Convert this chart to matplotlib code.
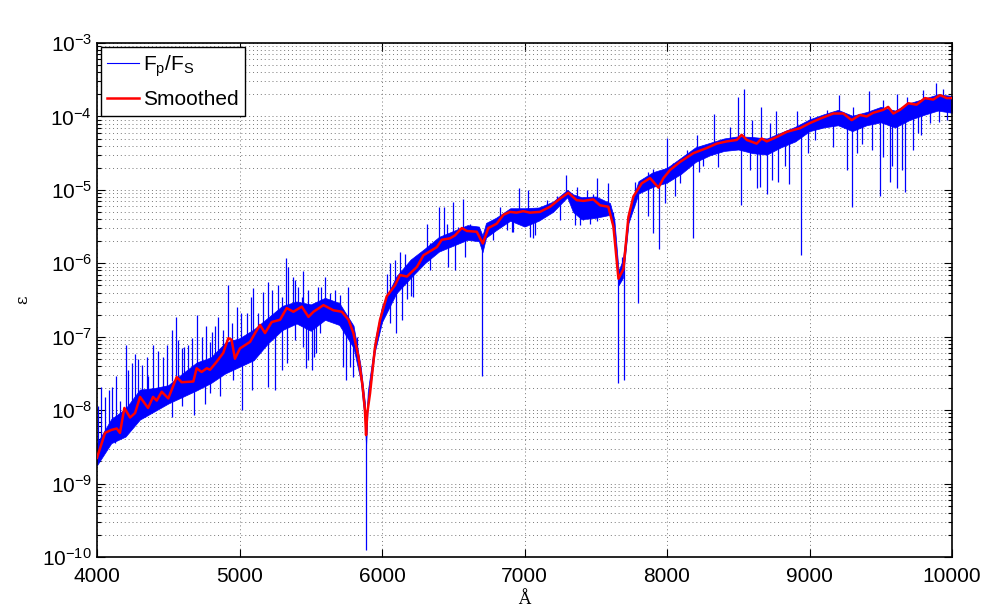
import numpy as np
import matplotlib
matplotlib.use("Agg")
import matplotlib.pyplot as plt
from matplotlib.ticker import FixedLocator, NullLocator, NullFormatter, LogFormatterSciNotation

# ---------------- data (log10 of epsilon) ----------------
smooth_wl = [4000, 4056, 4100, 4138, 4161, 4192, 4232, 4267, 4302, 4358, 4393, 4419, 4454, 4500,
             4559, 4594, 4676, 4699, 4734, 4770, 4793, 4840, 4886, 4921, 4944, 4968, 5003, 5074,
             5109, 5144, 5179, 5226, 5284, 5331, 5378, 5437, 5484, 5519, 5589, 5659, 5718, 5765,
             5799, 5834, 5864, 5880, 5888, 5896, 5916, 5951, 5986, 6033, 6091, 6126, 6175, 6245,
             6291, 6385, 6419, 6477, 6512, 6560, 6596, 6665, 6707, 6746, 6805, 6852, 6898, 6944,
             6991, 7038, 7108, 7179, 7249, 7307, 7366, 7413, 7483, 7530, 7588, 7624, 7659, 7694,
             7729, 7764, 7823, 7881, 7940, 7975, 8021, 8091, 8185, 8279, 8349, 8419, 8489, 8524,
             8560, 8629, 8664, 8700, 8770, 8840, 8933, 9003, 9074, 9167, 9237, 9296, 9354, 9401,
             9447, 9517, 9552, 9588, 9635, 9693, 9751, 9810, 9868, 9916, 9963, 10000]
smooth_log = [-8.65, -8.31, -8.27, -8.25, -8.31, -7.97, -8.10, -8.04, -7.82, -7.97, -7.82, -7.87, -7.75, -7.84,
              -7.55, -7.62, -7.61, -7.43, -7.48, -7.43, -7.45, -7.34, -7.22, -7.02, -7.04, -7.30, -7.16, -7.07,
              -6.95, -6.84, -6.95, -6.80, -6.77, -6.61, -6.66, -6.59, -6.73, -6.66, -6.57, -6.64, -6.66, -6.77,
              -6.95, -7.27, -7.68, -8.00, -8.34, -8.05, -7.77, -7.14, -6.77, -6.45, -6.30, -6.16, -6.18, -6.05,
              -5.89, -5.78, -5.68, -5.66, -5.62, -5.52, -5.56, -5.57, -5.73, -5.52, -5.46, -5.34, -5.30, -5.31,
              -5.29, -5.31, -5.30, -5.23, -5.12, -5.04, -5.14, -5.15, -5.13, -5.21, -5.23, -5.50, -6.21, -6.08,
              -5.37, -5.09, -4.91, -4.84, -4.97, -4.84, -4.73, -4.62, -4.50, -4.43, -4.37, -4.34, -4.32, -4.25,
              -4.32, -4.37, -4.30, -4.34, -4.28, -4.21, -4.16, -4.09, -4.03, -3.96, -3.96, -4.05, -3.98, -4.00,
              -3.95, -3.91, -3.87, -3.96, -3.91, -3.82, -3.84, -3.75, -3.77, -3.71, -3.75, -3.75]

# dense part of the raw Fp/Fs spectrum: lower / upper edge of the band
band_wl = [4000, 4100, 4200, 4300, 4400, 4500, 4600, 4700, 4800, 4900, 5000, 5100, 5200, 5300, 5400,
           5500, 5600, 5700, 5800, 5850, 5880, 5888, 5900, 5950, 6000, 6100, 6200, 6300, 6400, 6500,
           6600, 6680, 6705, 6730, 6800, 6900, 7000, 7100, 7200, 7300, 7340, 7400, 7500, 7600, 7630,
           7660, 7690, 7730, 7800, 7900, 8000, 8100, 8200, 8300, 8400, 8500, 8600, 8700, 8800, 8900,
           9000, 9100, 9200, 9300, 9400, 9500, 9600, 9700, 9800, 9900, 10000]
band_lo = [-8.75, -8.45, -8.36, -8.13, -8.02, -7.91, -7.82, -7.73, -7.63, -7.50, -7.41, -7.32, -7.09, -6.91, -6.82,
           -6.92, -6.77, -6.84, -7.15, -7.60, -8.15, -8.50, -7.95, -7.20, -6.80, -6.41, -6.20, -6.00, -5.84, -5.76,
           -5.68, -5.70, -5.85, -5.65, -5.55, -5.42, -5.50, -5.42, -5.30, -5.10, -5.30, -5.40, -5.38, -5.34, -5.60,
           -6.30, -6.20, -5.45, -5.05, -4.96, -4.90, -4.78, -4.62, -4.53, -4.47, -4.45, -4.50, -4.52, -4.42, -4.34,
           -4.20, -4.15, -4.12, -4.20, -4.12, -4.08, -4.15, -4.05, -3.98, -3.92, -3.95]
band_hi = [-8.45, -8.12, -7.98, -7.72, -7.70, -7.66, -7.50, -7.35, -7.28, -7.08, -7.02, -6.90, -6.74, -6.58, -6.52,
           -6.56, -6.47, -6.54, -6.85, -7.40, -7.90, -8.20, -7.75, -7.05, -6.58, -6.18, -5.95, -5.80, -5.64, -5.56,
           -5.48, -5.50, -5.62, -5.45, -5.38, -5.25, -5.25, -5.24, -5.16, -5.00, -5.06, -5.10, -5.09, -5.18, -5.40,
           -6.10, -5.95, -5.30, -4.88, -4.76, -4.70, -4.56, -4.42, -4.36, -4.30, -4.27, -4.28, -4.30, -4.22, -4.14,
           -4.04, -3.97, -3.91, -3.99, -3.94, -3.87, -3.92, -3.82, -3.76, -3.70, -3.72]

# individual narrow absorption features / noise spikes pointing down: wavelength, bottom, top
down_wl = [4126, 4337, 4524, 4594, 4683, 4758, 4793, 4863, 4957, 5015, 5086, 5202, 5249, 5296, 5331,
           5389, 5448, 5467, 5483, 5507, 5522, 5537, 5565, 5728, 5747, 5775, 5799, 5822, 5888, 6056,
           6098, 6138, 6173, 6200, 6220, 6336, 6465, 6512, 6582, 6704, 6782, 6875, 6910, 6922, 7039,
           7062, 7074, 7249, 7355, 7389, 7413, 7459, 7507, 7553, 7623, 7659, 7698, 7799, 7869, 7904,
           7946, 7986, 8056, 8091, 8185, 8227, 8255, 8355, 8407, 8517, 8582, 8629, 8653, 8704, 8734,
           8777, 8828, 8858, 8940, 8992, 9038, 9167, 9261, 9301, 9331, 9366, 9436, 9495, 9518, 9565,
           9576, 9616, 9647, 9670, 9728, 9764, 9780, 9845, 9911, 9962]
down_lo = [-8.45, -8.09, -8.09, -7.95, -8.07, -7.91, -7.77, -7.81, -7.59, -8.00, -7.73, -7.68, -7.73, -7.45, -7.36,
           -7.05, -7.14, -7.43, -7.32, -7.46, -7.27, -7.22, -6.95, -7.41, -7.59, -7.41, -7.55, -7.19, -9.90, -6.82,
           -6.95, -6.77, -6.48, -6.45, -6.46, -6.09, -6.05, -6.09, -5.91, -7.54, -5.68, -5.55, -5.57, -5.57, -5.64,
           -5.66, -5.61, -5.41, -5.48, -5.48, -5.41, -5.47, -5.43, -5.36, -5.54, -7.63, -7.59, -6.54, -5.36, -5.59,
           -5.81, -5.18, -5.09, -4.91, -5.66, -4.75, -4.68, -4.69, -4.46, -5.21, -4.73, -4.97, -4.96, -5.06, -4.87,
           -4.89, -4.68, -4.92, -5.89, -4.50, -4.32, -4.41, -4.73, -5.23, -4.50, -4.37, -4.46, -5.09, -4.55, -4.89,
           -4.68, -4.98, -4.73, -5.03, -4.46, -4.23, -4.25, -4.09, -4.08, -4.05]
down_hi = [-8.25, -7.90, -7.80, -7.60, -7.60, -7.45, -7.45, -7.30, -7.05, -7.20, -7.10, -6.85, -6.85, -6.75, -6.70,
           -6.65, -6.65, -6.70, -6.70, -6.70, -6.70, -6.65, -6.60, -6.70, -6.70, -6.80, -6.95, -7.00, -8.20, -6.40,
           -6.30, -6.20, -6.15, -6.10, -6.05, -5.85, -5.65, -5.65, -5.55, -5.70, -5.45, -5.30, -5.30, -5.30, -5.30,
           -5.30, -5.30, -5.10, -5.10, -5.15, -5.15, -5.15, -5.15, -5.20, -5.30, -6.10, -6.00, -5.00, -4.85, -4.85,
           -4.95, -4.80, -4.65, -4.60, -4.50, -4.45, -4.45, -4.37, -4.33, -4.30, -4.33, -4.35, -4.30, -4.34, -4.30,
           -4.28, -4.22, -4.20, -4.15, -4.10, -4.05, -3.96, -3.98, -4.05, -4.00, -3.98, -3.95, -3.90, -3.90, -3.92,
           -3.92, -3.92, -3.90, -3.85, -3.83, -3.82, -3.80, -3.76, -3.72, -3.74]

# noise spikes pointing up: wavelength, bottom, top
up_wl = [4009, 4028, 4056, 4084, 4103, 4133, 4161, 4201, 4220, 4243, 4267, 4290, 4314, 4349, 4360,
         4395, 4430, 4465, 4489, 4528, 4552, 4571, 4599, 4613, 4641, 4664, 4700, 4735, 4763, 4793,
         4805, 4828, 4847, 4887, 4917, 4945, 4980, 5008, 5050, 5081, 5097, 5132, 5167, 5202, 5226,
         5267, 5296, 5323, 5343, 5377, 5389, 5412, 5436, 5443, 5483, 5553, 5572, 5600, 5635, 5670,
         5705, 5764, 6032, 6056, 6091, 6126, 6161, 6243, 6314, 6336, 6402, 6435, 6453, 6496, 6535,
         6566, 6617, 6828, 6962, 7027, 7156, 7226, 7291, 7366, 7437, 7483, 7506, 7588, 7682, 7775,
         7869, 7904, 7998, 8045, 8138, 8208, 8332, 8442, 8500, 8540, 8594, 8660, 8723, 8765, 8915,
         9003, 9120, 9209, 9308, 9418, 9518, 9612, 9682, 9799, 9888, 9939]
up_lo = [-8.60, -8.50, -8.35, -8.30, -8.30, -8.25, -8.30, -8.00, -8.05, -8.05, -8.00, -7.90, -7.85, -7.95, -7.95,
         -7.85, -7.85, -7.80, -7.80, -7.60, -7.60, -7.55, -7.60, -7.60, -7.60, -7.60, -7.45, -7.45, -7.45, -7.45,
         -7.40, -7.40, -7.35, -7.20, -7.05, -7.05, -7.20, -7.20, -7.10, -7.10, -7.10, -6.95, -6.90, -6.90, -6.80,
         -6.80, -6.75, -6.65, -6.65, -6.65, -6.65, -6.60, -6.60, -6.60, -6.70, -6.60, -6.60, -6.60, -6.60, -6.65,
         -6.65, -6.80, -6.45, -6.40, -6.30, -6.20, -6.20, -6.05, -5.90, -5.85, -5.75, -5.70, -5.68, -5.65, -5.60,
         -5.55, -5.56, -5.40, -5.30, -5.30, -5.28, -5.20, -5.05, -5.14, -5.15, -5.13, -5.15, -5.23, -6.10, -5.10,
         -4.86, -4.90, -4.80, -4.70, -4.60, -4.50, -4.40, -4.35, -4.35, -4.30, -4.33, -4.32, -4.32, -4.30, -4.20,
         -4.09, -4.00, -3.95, -4.03, -3.98, -3.92, -3.92, -3.85, -3.78, -3.75, -3.73]
up_hi = [-7.95, -7.68, -7.82, -7.73, -7.68, -7.53, -7.88, -7.11, -7.45, -7.36, -7.23, -7.30, -7.38, -7.27, -7.54,
         -7.11, -7.20, -7.28, -7.11, -6.91, -6.73, -7.05, -7.16, -7.14, -7.11, -7.02, -6.70, -7.00, -6.86, -7.07,
         -6.93, -6.86, -6.73, -6.91, -6.30, -6.82, -6.59, -6.68, -6.68, -6.46, -6.34, -6.68, -6.39, -6.25, -6.36,
         -6.30, -6.46, -5.93, -6.05, -6.18, -6.23, -6.32, -6.46, -6.11, -6.36, -6.32, -6.32, -6.18, -6.41, -6.36,
         -6.43, -6.32, -6.14, -6.00, -5.96, -5.84, -5.88, -5.96, -5.46, -5.73, -5.23, -5.23, -5.46, -5.16, -5.50,
         -5.13, -5.46, -5.23, -4.97, -5.00, -5.14, -5.09, -4.80, -4.96, -5.00, -5.05, -4.84, -4.90, -5.91, -4.89,
         -4.75, -4.71, -4.30, -4.64, -4.46, -4.25, -3.96, -4.14, -3.73, -3.63, -4.05, -3.87, -4.09, -3.92, -3.93,
         -4.00, -3.91, -3.71, -3.87, -3.66, -3.78, -3.69, -3.73, -3.64, -3.54, -3.62]

x_ticks = [4000, 5000, 6000, 7000, 8000, 9000, 10000]
y_decades = [-10, -9, -8, -7, -6, -5, -4, -3]

# ---------------- style ----------------
plt.rcParams['font.family'] = ['Liberation Sans', 'DejaVu Sans']
plt.rcParams['mathtext.fontset'] = 'custom'
plt.rcParams['mathtext.rm'] = 'Liberation Sans'
plt.rcParams['mathtext.it'] = 'Liberation Sans'
plt.rcParams['mathtext.default'] = 'regular'

fig = plt.figure(figsize=(9.89, 6.12), dpi=100)
ax = fig.add_axes([0.0981, 0.0899, 0.8645, 0.8398])

blue = (0, 0, 1)
red = (1, 0, 0)

ax.fill_between(band_wl, 10.0 ** np.array(band_lo), 10.0 ** np.array(band_hi),
                color=blue, lw=0.5, edgecolor=blue, zorder=2)
ax.vlines(down_wl, 10.0 ** np.array(down_lo), 10.0 ** np.array(down_hi),
          color=blue, lw=0.9, zorder=2)
ax.vlines(up_wl, 10.0 ** np.array(up_lo), 10.0 ** np.array(up_hi),
          color=blue, lw=0.9, zorder=2)
# legend proxy for the raw ratio
ax.plot([], [], color=blue, lw=0.8, label=r'F$_p$/F$_S$')
ax.plot(smooth_wl, 10.0 ** np.array(smooth_log), color=red, lw=1.8, zorder=3, label='Smoothed')

ax.set_yscale('log')
ax.set_xlim(4000, 10000)
ax.set_ylim(1e-10, 1e-3)
ax.xaxis.set_major_locator(FixedLocator(x_ticks))
ax.xaxis.set_minor_locator(NullLocator())
major_y = [10.0 ** d for d in y_decades]
minor_y = [m * 10.0 ** d for d in y_decades[:-1] for m in range(2, 10)]
ax.yaxis.set_major_locator(FixedLocator(major_y))
ax.yaxis.set_major_formatter(LogFormatterSciNotation())
ax.yaxis.set_minor_locator(FixedLocator(minor_y))
ax.yaxis.set_minor_formatter(NullFormatter())

ax.grid(True, which='major', axis='both', linestyle=(0, (1, 3)), color='#777777', lw=0.7)
ax.grid(True, which='minor', axis='y', linestyle=(0, (1, 3)), color='#777777', lw=0.7)
ax.set_axisbelow(True)

ax.tick_params(which='both', direction='in', top=True, right=True, labelsize=15, width=0.8)
ax.tick_params(which='major', length=6)
ax.tick_params(which='minor', length=3)
ax.tick_params(axis='x', which='major', pad=7)
for s in ax.spines.values():
    s.set_linewidth(1.2)

ax.set_xlabel('Å', fontsize=12, family='DejaVu Serif', labelpad=4)
ax.set_ylabel('ε', fontsize=12, family='DejaVu Serif', labelpad=8)

leg = ax.legend(loc='upper left', fontsize=15, frameon=True, fancybox=False,
                borderaxespad=0.2, handlelength=1.5, handletextpad=0.2,
                borderpad=0.3, labelspacing=0.55)
leg.get_frame().set_edgecolor('black')
leg.get_frame().set_linewidth(1.0)
leg.get_frame().set_alpha(1)

fig.savefig('out.png', dpi=100)
